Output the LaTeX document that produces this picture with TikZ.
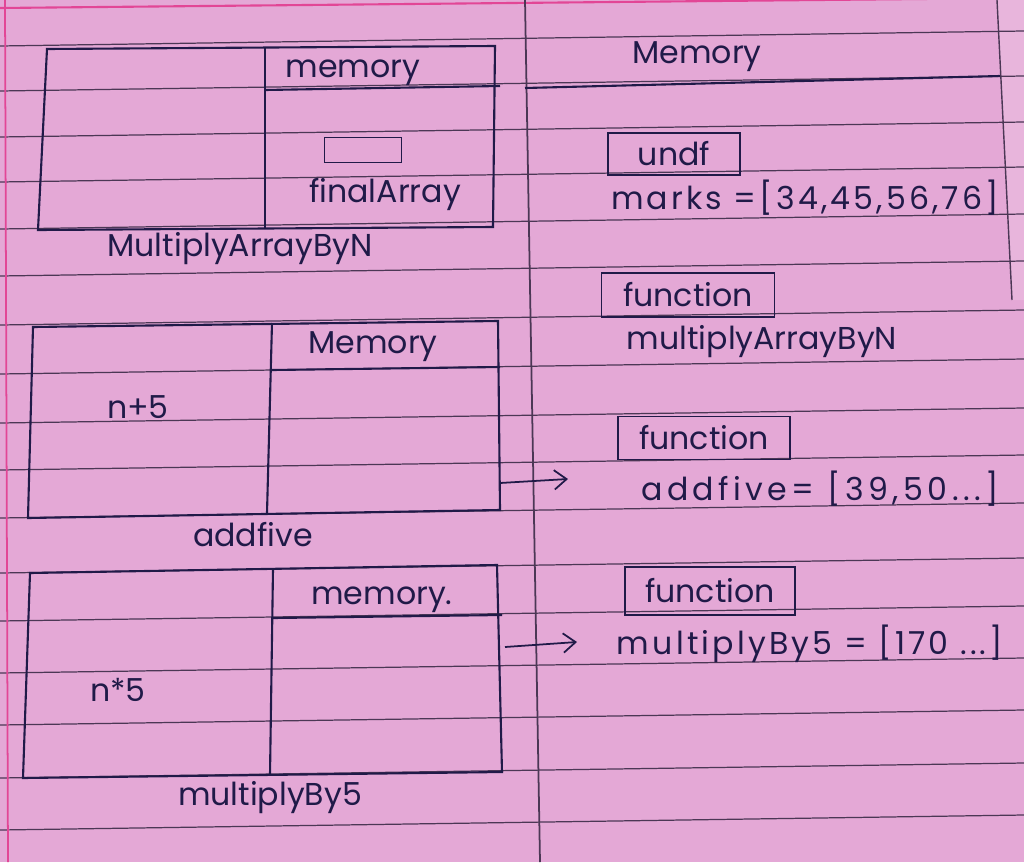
\documentclass[tikz,border=0pt]{standalone}
\usepackage{fontspec}
\setmainfont{Poppins}
\usetikzlibrary{arrows.meta}
\definecolor{paper}{RGB}{228,168,214}
\definecolor{rulec}{RGB}{75,55,85}
\definecolor{ink}{RGB}{32,26,72}
\definecolor{marginc}{RGB}{226,70,150}
\begin{document}
\begin{tikzpicture}[x=0.02cm,y=-0.02cm,
  ruleline/.style={draw=rulec,line width=0.7pt},
  inkline/.style={draw=ink,line width=1.2pt},
  hand/.style={text=ink,font=\fontsize{18}{20}\selectfont,inner sep=0pt},
  fnbox/.style={draw=ink,line width=1.1pt,text=ink,font=\fontsize{18}{20}\selectfont,inner sep=0pt},
  arr/.style={draw=ink,line width=1pt,-{Straight Barb[length=7pt,width=11pt]}}]
\fill[paper] (0,0) rectangle (1024,862);
\useasboundingbox (0,0) rectangle (1024,862);
% under-page strip on the right
\fill[paper!85!white] (997,0) -- (1024,0) -- (1024,300) -- (1012,300) -- cycle;
% notebook rules
\foreach \y in {46,91,137,182,229,276,325,374,423,470,518,573,621,673,725,778,830}
  \draw[ruleline] (0,\y) -- (1024,\y-15);
% top magenta line and left edge
\draw[draw=marginc,line width=1.2pt] (0,8) -- (1024,-2);
\draw[draw=marginc,line width=1pt] (5,0) -- (8,862);
% margin line
\draw[draw=rulec,line width=1pt] (525,0) -- (540,862);
\draw[draw=rulec,line width=0.8pt] (997,0) -- (1012,300);

% ---- box 1: MultiplyArrayByN
\draw[inkline] (47,49) -- (495,46) -- (493,227) -- (38,230) -- cycle;
\draw[inkline] (265,48) -- (265,228);
\draw[inkline] (265,90) -- (500,86);
\node[hand] (mem1) at (353,73) {memory};
\node[draw=ink,line width=1.1pt,minimum width=1.54cm,minimum height=0.5cm,inner sep=0pt] (fa) at (363,150) {};
\node[hand] (fal) at (385,194) {finalArray};
\node[hand] (b1) at (240,249) {MultiplyArrayByN};

% ---- box 2: addfive
\draw[inkline] (33,327) -- (498,321) -- (500,510) -- (28,518) -- cycle;
\draw[inkline] (272,323) -- (267,513);
\draw[inkline] (272,370) -- (500,367);
\node[hand] (mem2) at (373,347) {Memory};
\node[hand] (np5) at (138,407) {n+5};
\node[hand] (b2) at (253,535) {addfive};

% ---- box 3: multiplyBy5
\draw[inkline] (30,573) -- (497,565) -- (502,772) -- (23,778) -- cycle;
\draw[inkline] (273,569) -- (270,775);
\draw[inkline] (273,618) -- (502,615);
\node[hand] (mem3) at (382,600) {memory.};
\node[hand] (nt5) at (118,690) {n*5};
\node[hand] (b3) at (270,798) {multiplyBy5};

% ---- right: Memory column
\node[hand] (memR) at (697,57) {Memory};
\draw[inkline] (525,88) -- (1000,76);
\node[fnbox,minimum width=2.64cm,minimum height=0.84cm] (undf) at (674,154) {undf};
\node[hand] (marks) at (805,198) {\addfontfeatures{LetterSpace=10}marks =[34,45,56,76]};
\node[fnbox,minimum width=3.46cm,minimum height=0.88cm] (fnA) at (688,295) {function};
\node[hand] (mabn) at (762,342) {multiplyArrayByN};
\node[fnbox,minimum width=3.44cm,minimum height=0.86cm] (fnB) at (704,438) {function};
\node[hand] (addf) at (820,489) {\addfontfeatures{LetterSpace=14}addfive= [39,50...]};
\node[fnbox,minimum width=3.4cm,minimum height=0.96cm] (fnC) at (710,591) {function};
\node[hand] (mb5) at (810,644) {\addfontfeatures{LetterSpace=10}multiplyBy5 = [170 ...]};

% arrows
\coordinate (a1s) at (500,483);
\coordinate (a1e) at (568,479);
\coordinate (a2s) at (505,647);
\coordinate (a2e) at (577,642);
\draw[arr] (a1s) -- (a1e);
\draw[arr] (a2s) -- (a2e);
\end{tikzpicture}
\end{document}
